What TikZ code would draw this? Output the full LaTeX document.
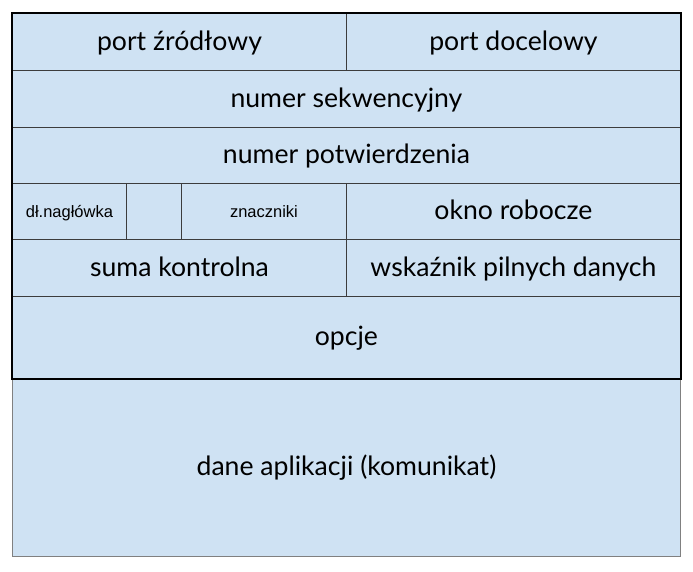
\documentclass[tikz,border=0pt]{standalone}
\usepackage{fontspec}
\setmainfont{Lato}
\newfontfamily\arialfont{Liberation Sans}
\definecolor{fieldBlue}{RGB}{207, 226, 243}
\definecolor{lineGray}{RGB}{60, 60, 60}

\begin{document}
\begin{tikzpicture}[x=1pt, y=-1pt]
    % Styles
    \tikzstyle{field} = [rectangle, anchor=north west, inner sep=0pt, fill=fieldBlue, draw=lineGray, line width=0.9pt, text height=21pt, text depth=4pt, font=\fontsize{26.6}{32}\selectfont]
    \tikzstyle{smallfield} = [field, text height=13pt, text depth=1pt, font=\arialfont\fontsize{16.5}{20}\selectfont]

    \useasboundingbox (0, 0) rectangle (693, 571);

    % Nodes
    \node[field, minimum width=334pt, minimum height=57pt] (srcport) at (12, 13) {port źródłowy};
    \node[field, minimum width=334pt, minimum height=57pt] (dstport) at (346, 13) {port docelowy};
    \node[field, minimum width=668pt, minimum height=57pt] (seqnum) at (12, 70) {numer sekwencyjny};
    \node[field, minimum width=668pt, minimum height=56pt] (acknum) at (12, 127) {numer potwierdzenia};
    \node[smallfield, minimum width=114pt, minimum height=56pt] (hdrlen) at (12, 183) {dł.nagłówka};
    \node[smallfield, minimum width=55pt, minimum height=56pt] (unused) at (126, 183) {};
    \node[smallfield, minimum width=165pt, minimum height=56pt] (flags) at (181, 183) {znaczniki};
    \node[field, minimum width=334pt, minimum height=56pt] (window) at (346, 183) {okno robocze};
    \node[field, minimum width=334pt, minimum height=57pt] (checksum) at (12, 239) {suma kontrolna};
    \node[field, minimum width=334pt, minimum height=57pt] (urgent) at (346, 239) {wskaźnik pilnych danych};
    \node[field, minimum width=668pt, minimum height=82pt] (options) at (12, 296) {opcje};
    \node[field, draw=gray, minimum width=668pt, minimum height=178pt] (appdata) at (12, 378) {dane aplikacji (komunikat)};

    % Header frame
    \draw[line width=2.2pt, black] (srcport.north west) rectangle (options.south east);
\end{tikzpicture}
\end{document}
